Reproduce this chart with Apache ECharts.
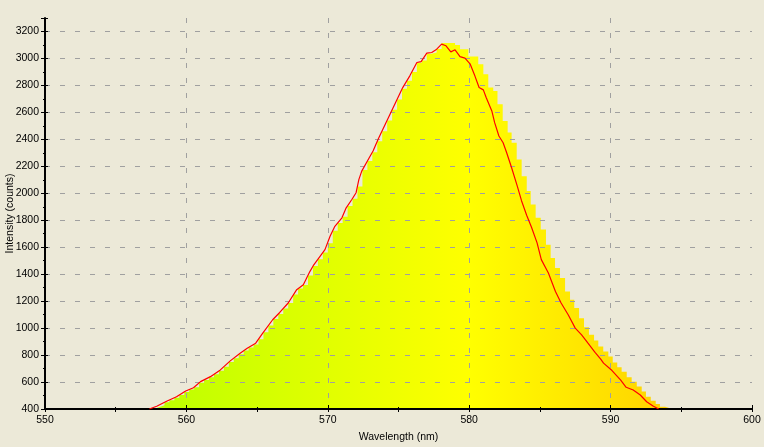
<!DOCTYPE html>
<html><head><meta charset="utf-8">
<script src="https://cdn.jsdelivr.net/npm/echarts@6/dist/echarts.min.js"></script>
<style>html,body{margin:0;padding:0;background:#ECE9D8;}#c{width:764px;height:447px;}</style>
</head><body><div id="c"></div>
<script>
// Red measured curve
const lineWavelength = [557.38,557.9,558.6,559.3,559.95,560.5,561.0,561.7,562.4,563.1,563.8,564.3,564.9,565.4,566.1,566.6,567.2,567.8,568.27,568.74,568.97,569.45,569.8,570.16,570.5,571.0,571.3,571.7,572.0,572.2,572.4,572.9,573.2,573.6,574.4,575.3,575.8,576.3,576.6,577.0,577.35,577.65,578.05,578.36,578.7,579.0,579.35,579.7,580.06,580.4,580.7,581.0,581.2,581.6,581.8,582.1,582.4,582.65,583.0,583.4,583.7,584.07,584.4,584.8,585.1,585.6,586.1,586.5,587.0,587.5,587.95,588.4,588.9,589.3,589.5,590.1,590.7,591.1,591.6,592.1,592.55,593.0,593.4];
const lineIntensity = [400,420,457,491,534,558,603,640,690,757,814,851,888,963,1062,1116,1186,1285,1322,1421,1463,1532,1582,1681,1755,1818,1892,1954,2004,2103,2164,2258,2313,2410,2586,2784,2871,2970,2977,3039,3044,3064,3106,3094,3049,3064,3014,3002,2960,2871,2784,2767,2710,2611,2524,2425,2375,2301,2189,2053,1945,1835,1750,1632,1508,1409,1272,1186,1099,1000,950,888,820,770,740,685,616,561,541,504,454,422,400];
// Stepped filled spectrum (left edge of each step, height)
const fillWavelength = [557.40,557.75,558.10,558.45,558.80,559.15,559.50,559.85,560.20,560.55,560.90,561.25,561.60,561.95,562.30,562.65,563.00,563.35,563.70,564.05,564.40,564.75,565.10,565.45,565.80,566.15,566.50,566.85,567.20,567.55,567.90,568.25,568.60,568.95,569.30,569.65,570.00,570.35,570.70,571.05,571.40,571.75,572.10,572.45,572.80,573.15,573.50,573.85,574.20,574.55,574.90,575.25,575.60,575.95,576.30,576.65,577.00,577.35,577.70,578.05,579.0,579.35,579.94,580.64,581.0,581.35,581.7,582.0,582.37,582.72,583.0,583.36,583.71,584.07,584.35,584.7,585.06,585.43,585.76,586.07,586.42,586.78,587.13,587.43,587.77,588.12,588.47,588.83,589.13,589.48,589.84,590.15,590.47,590.78,591.14,591.49,591.85,592.2,592.5,592.84,593.19,593.49,593.85,594.2];
const fillIntensity = [402,415,428,450,465,484,503,527,545,562,595,615,635,657,683,714,748,777,806,833,857,879,918,970,1020,1067,1105,1145,1186,1250,1293,1320,1390,1460,1510,1560,1630,1722,1780,1825,1905,1960,2050,2172,2240,2305,2385,2460,2540,2620,2695,2775,2835,2900,2968,2985,3035,3044,3070,3114,3099,3069,3015,2957,2883,2784,2759,2660,2536,2450,2375,2251,2127,2016,1917,1818,1731,1619,1520,1446,1372,1272,1210,1149,1074,1007,950,908,863,826,789,744,710,677,635,603,566,529,491,462,437,417,405,400];
const xMin = 550, xMax = 600, xStep = 10, xMinorStep = 5;
const yMin = 400, yMax = 3300, yStep = 200, yMinorStep = 100;
const xName = 'Wavelength (nm)';
const yName = 'Intensity (counts)';
const spectrumStops = [[550,'#a3ff00'],[555,'#b3ff00'],[560,'#c3ff00'],[565,'#d2ff00'],[570,'#e1ff00'],[575,'#f0ff00'],[580,'#ffff00'],[585,'#ffef00'],[590,'#ffdf00'],[595,'#ffcf00'],[600,'#ffbe00']];

const G = {left:45, right:12, top:18, bottom:38, containLabel:false, outerBoundsMode:'none'};
const W = 764, H = 447;
const font = {fontFamily:'Liberation Sans', fontSize:10.5, color:'#000'};
const grad = new echarts.graphic.LinearGradient(G.left, 0, W - G.right, 0,
  spectrumStops.map(s => ({offset:(s[0]-xMin)/(xMax-xMin), color:s[1]})), true);

function tickAxis(type, interval, len, inside, pos){
  return {type:'value', gridIndex:0, position:pos, min: type==='x'?xMin:yMin, max: type==='x'?xMax:yMax,
    interval:interval, axisLine:{show:false}, axisLabel:{show:false}, splitLine:{show:false},
    axisTick:{show:true, inside:inside, length:len, lineStyle:{color:'#000', width:1}}};
}
const dash = {color:'#a0a0a0', width:1, type:[5,10]};
const chart = echarts.init(document.getElementById('c'), null, {renderer:'canvas'});
chart.setOption({
  backgroundColor:'#ECE9D8',
  animation:false,
  grid:G,
  xAxis:[
    {type:'value', position:'bottom', min:xMin, max:xMax, interval:xStep,
     name:xName, nameLocation:'middle', nameGap:23, nameMoveOverlap:false, nameTextStyle:font,
     axisLine:{show:true, onZero:false, lineStyle:{color:'#000', width:2}},
     axisTick:{show:true, inside:true, length:4, lineStyle:{color:'#000'}},
     axisLabel:Object.assign({margin:6}, font),
     splitLine:{show:true, showMinLine:false, showMaxLine:false, lineStyle:dash}},
    tickAxis('x', xMinorStep, 3, false, 'bottom'),
    tickAxis('x', xMinorStep, 2, true, 'bottom')
  ],
  yAxis:[
    {type:'value', position:'left', min:yMin, max:yMax, interval:yStep,
     name:yName, nameLocation:'middle', nameGap:29, nameMoveOverlap:false, nameTextStyle:font,
     axisLine:{show:true, onZero:false, lineStyle:{color:'#000', width:2}},
     axisTick:{show:true, inside:false, length:4, lineStyle:{color:'#000'}},
     axisLabel:Object.assign({margin:6, formatter:v => (v % yStep === 0 ? String(v) : '')}, font),
     splitLine:{show:true, showMinLine:true, showMaxLine:false, lineStyle:dash}},
    tickAxis('y', yMinorStep, 2, false, 'left'),
    tickAxis('y', yStep, 3, true, 'left')
  ],
  series:[
    {type:'line', name:'fill', xAxisIndex:0, yAxisIndex:0, step:'end', z:-1,
     data:fillWavelength.map((x,i)=>[x, fillIntensity[i]]),
     symbol:'none', lineStyle:{width:0, opacity:0}, areaStyle:{color:grad, opacity:1, origin:'start'}},
    {type:'line', name:'line', xAxisIndex:0, yAxisIndex:0, z:5,
     data:lineWavelength.map((x,i)=>[x, lineIntensity[i]]),
     symbol:'none', lineStyle:{color:'#ff0000', width:1.2}}
  ]
});
</script></body></html>
